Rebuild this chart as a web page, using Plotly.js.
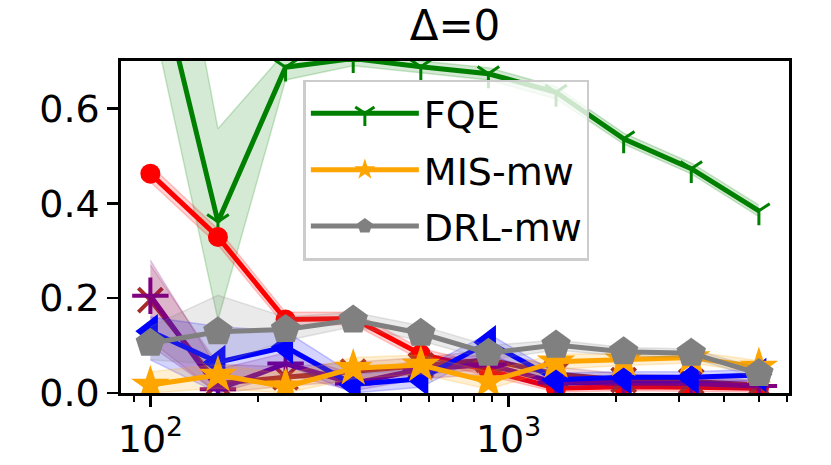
<!DOCTYPE html>
<html>
<head>
<meta charset="utf-8">
<script src="https://cdn.plot.ly/plotly-3.0.1.min.js"></script>
<style>html,body{margin:0;padding:0;background:#fff;}#chart{width:831px;height:465px;}</style>
</head>
<body>
<div id="chart"></div>
<script>
// sample sizes (x)
const nSamples = [100, 154.4, 238.5, 368.4, 568.9, 878.6, 1357, 2096, 3237, 5000];

// FQE (green)
const fqeMean = [0.95, 0.361, 0.687, 0.705, 0.688, 0.673, 0.634, 0.536, 0.473, 0.384];
const fqeLow  = [0.81, 0.154, 0.660, 0.690, 0.675, 0.660, 0.620, 0.525, 0.462, 0.372];
const fqeHigh = [1.31, 0.557, 0.720, 0.720, 0.700, 0.686, 0.646, 0.548, 0.485, 0.396];

// red (circles)
const redMean = [0.4625, 0.329, 0.155, 0.157, 0.082, 0.048, 0.010, 0.013, 0.012, 0.010];
const redLow  = [0.445, 0.312, 0.140, 0.145, 0.070, 0.036, 0.002, 0.005, 0.004, 0.002];
const redHigh = [0.480, 0.346, 0.170, 0.170, 0.094, 0.060, 0.020, 0.022, 0.021, 0.018];

// brown (x)
const brownMean = [0.196, 0.020, 0.033, 0.045, 0.058, 0.070, 0.040, 0.027, 0.024, 0.017];
const brownLow  = [0.110, 0.000, 0.015, 0.025, 0.040, 0.050, 0.025, 0.015, 0.012, 0.008];
const brownHigh = [0.270, 0.060, 0.055, 0.065, 0.075, 0.090, 0.055, 0.040, 0.036, 0.027];

// purple (+)
const purpleMean = [0.205, 0.008, 0.062, 0.020, 0.050, 0.060, 0.022, 0.020, 0.020, 0.015];
const purpleLow  = [0.100, 0.000, 0.040, 0.005, 0.030, 0.040, 0.010, 0.010, 0.010, 0.006];
const purpleHigh = [0.280, 0.050, 0.085, 0.040, 0.070, 0.080, 0.035, 0.032, 0.031, 0.025];

// blue (<)
const blueMean = [0.130, 0.065, 0.097, 0.018, 0.030, 0.107, 0.028, 0.033, 0.033, 0.038];
const blueLow  = [0.070, 0.000, 0.060, 0.000, 0.012, 0.085, 0.015, 0.022, 0.022, 0.026];
const blueHigh = [0.160, 0.140, 0.130, 0.040, 0.050, 0.125, 0.042, 0.045, 0.045, 0.050];

// MIS-mw (orange stars)
const misMean = [0.017, 0.038, 0.013, 0.052, 0.059, 0.024, 0.066, 0.070, 0.075, 0.055];
const misLow  = [0.000, 0.010, 0.000, 0.030, 0.040, 0.008, 0.050, 0.058, 0.063, 0.042];
const misHigh = [0.045, 0.060, 0.040, 0.075, 0.080, 0.045, 0.082, 0.083, 0.088, 0.068];

// DRL-mw (gray pentagons)
const drlMean = [0.105, 0.129, 0.134, 0.154, 0.126, 0.084, 0.101, 0.087, 0.084, 0.041];
const drlLow  = [0.070, 0.060, 0.110, 0.140, 0.110, 0.070, 0.090, 0.078, 0.075, 0.030];
const drlHigh = [0.140, 0.206, 0.160, 0.170, 0.142, 0.100, 0.112, 0.096, 0.093, 0.052];

const legendNames = ['FQE', 'MIS-mw', 'DRL-mw'];
const xTickVals = [100, 1000];
const xTickText = ['10<sup>2</sup>', '10<sup>3</sup>'];
const xMinorVals = [90, 200, 300, 400, 500, 600, 700, 800, 900, 2000, 3000, 4000, 5000, 6000];
const yTickVals = [0, 0.2, 0.4, 0.6];

function rgba(rgb, a) { return 'rgba(' + rgb.join(',') + ',' + a + ')'; }

const series = [
  {mean: fqeMean, lo: fqeLow, hi: fqeHigh, rgb: [0,128,0], symbol: 'y-down', size: 18, lw: 3, name: legendNames[0], legend: true, open: true},
  {mean: redMean, lo: redLow, hi: redHigh, rgb: [255,0,0], symbol: 'circle', size: 20, lw: 0, name: 'r', legend: false},
  {mean: brownMean, lo: brownLow, hi: brownHigh, rgb: [165,42,42], symbol: 'x-thin', size: 24, lw: 4, name: 'b', legend: false, open: true},
  {mean: purpleMean, lo: purpleLow, hi: purpleHigh, rgb: [128,0,128], symbol: 'cross-thin', size: 26, lw: 4, name: 'p', legend: false, open: true},
  {mean: blueMean, lo: blueLow, hi: blueHigh, rgb: [0,0,255], symbol: 'triangle-left', size: 30, lw: 0, name: 'bl', legend: false},
  {mean: misMean, lo: misLow, hi: misHigh, rgb: [255,165,0], symbol: 'star', size: 29, lw: 0, name: legendNames[1], legend: true},
  {mean: drlMean, lo: drlLow, hi: drlHigh, rgb: [128,128,128], symbol: 'pentagon', size: 31, lw: 0, name: legendNames[2], legend: true}
];

const traces = [];
series.forEach(function(s, i) {
  traces.push({
    x: nSamples, y: s.lo, type: 'scatter', mode: 'lines',
    line: {color: rgba(s.rgb, 0.2), width: 1.5},
    showlegend: false, hoverinfo: 'skip'
  });
  traces.push({
    x: nSamples, y: s.hi, type: 'scatter', mode: 'lines', fill: 'tonexty',
    fillcolor: rgba(s.rgb, 0.17),
    line: {color: rgba(s.rgb, 0.2), width: 1.5},
    showlegend: false, hoverinfo: 'skip'
  });
  const color = rgba(s.rgb, 1);
  const marker = {symbol: s.symbol, size: s.size, color: color};
  if (s.open) { marker.line = {color: color, width: s.lw}; }
  else { marker.line = {width: 0}; }
  traces.push({
    x: nSamples, y: s.mean, type: 'scatter', mode: 'lines+markers',
    name: s.name, showlegend: s.legend, legendgroup: 'g' + i,
    line: {color: color, width: 5},
    marker: marker
  });
});

const font = 'DejaVu Sans, sans-serif';
const layout = {
  width: 831, height: 465,
  margin: {l: 121, r: 42, t: 61, b: 72},
  paper_bgcolor: '#fff', plot_bgcolor: '#fff',
  font: {family: font, color: '#000', size: 38},
  title: {text: 'Δ=0', font: {family: font, size: 42, color: '#000'},
          x: 0.5, xref: 'paper', xanchor: 'center', y: 0.946, yref: 'container', yanchor: 'middle'},
  xaxis: {
    type: 'log', range: [1.918, 3.783],
    tickmode: 'array', tickvals: xTickVals, ticktext: xTickText,
    ticks: 'outside', ticklen: 11, tickwidth: 2.6, tickcolor: '#000',
    minor: {tickmode: 'array', tickvals: xMinorVals, ticks: 'outside', ticklen: 6.5, tickwidth: 2, tickcolor: '#000'},
    showline: true, linewidth: 2.6, linecolor: '#000', mirror: true,
    showgrid: false, zeroline: false,
    tickfont: {family: font, size: 38, color: '#000'}
  },
  yaxis: {
    range: [0, 0.7],
    tickmode: 'array', tickvals: yTickVals, tickformat: '.1f',
    ticks: 'outside', ticklen: 11, tickwidth: 2.6, tickcolor: '#000',
    showline: true, linewidth: 2.6, linecolor: '#000', mirror: true,
    showgrid: false, zeroline: false,
    tickfont: {family: font, size: 38, color: '#000'}
  },
  legend: {
    x: 0.273, y: 0.944, xanchor: 'left', yanchor: 'top',
    bgcolor: 'rgba(255,255,255,0.8)', bordercolor: '#cccccc', borderwidth: 2.5,
    font: {family: font, size: 38, color: '#000'},
    tracegroupgap: 4, itemwidth: 108
  },
  showlegend: true
};

Plotly.newPlot('chart', traces, layout, {staticPlot: true, displayModeBar: false});
</script>
</body>
</html>
